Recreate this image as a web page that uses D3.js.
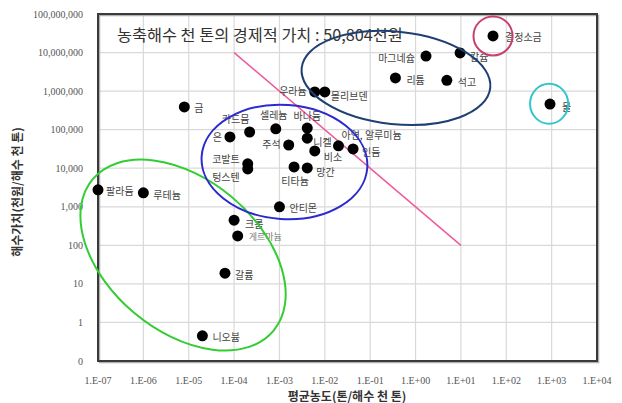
<!DOCTYPE html>
<html><head><meta charset="utf-8">
<script src="https://cdn.jsdelivr.net/npm/d3@7"></script>
<style>
body{margin:0;background:#fff;}
svg{display:block;}
text{font-family:"Noto Sans CJK KR","Noto Sans",sans-serif;}
</style></head>
<body><svg id="c" width="622" height="403"></svg>
<script>
// ---- data ----
const names = ["팔라듐","루테늄","금","은","카드뮴","셀레늄","바나듐","니켈","주석","비소","아연, 알루미늄","인듐","코발트","텅스텐","티타늄","망간","안티몬","크롬","게르마늄","갈륨","니오븀","우라늄","몰리브덴","마그네슘","칼슘","리튬","석고","결정소금","물"];
const concentration = [1e-7,1e-6,8e-6,8.1e-5,2.2e-4,8.3e-4,4.1e-3,4.1e-3,1.6e-3,6e-3,0.02,0.042,2.0e-4,2.0e-4,2.1e-3,4.1e-3,1e-3,1e-4,1.2e-4,6.3e-5,2.0e-5,6e-3,1e-2,1.7,9.6,0.36,4.9,51,920];
const value = [2750,2300,390000,65000,87000,105000,110000,60000,40000,28000,38000,31600,13000,9600,10800,10200,1000,450,175,19,0.45,950000,950000,8.1e6,9.8e6,2.2e6,1.9e6,2.7e7,460000];
const xTicks = [1e-7,1e-6,1e-5,1e-4,1e-3,1e-2,1e-1,1e0,1e1,1e2,1e3,1e4];
const xTickLabels = ["1.E-07","1.E-06","1.E-05","1.E-04","1.E-03","1.E-02","1.E-01","1.E+00","1.E+01","1.E+02","1.E+03","1.E+04"];
const yTicks = [1e8,1e7,1e6,1e5,1e4,1e3,1e2,1e1,1,0.1];
const yTickLabels = ["100,000,000","10,000,000","1,000,000","100,000","10,000","1,000","100","10","1","0"];
const trendX = [1e-4, 1e1];
const trendY = [1e7, 100];
// group outlines: centre (data), semi-axes in decades (x-decade units), rotation deg
const groups = [
  {cx:7.5e-6, cy:56, a:2.6, b:1.67, rot:40, color:"#33cc33"},
  {cx:1.29e-3, cy:14500, a:1.83, b:1.26, rot:4, color:"#2a2ad0"},
  {cx:0.37, cy:2.2e6, a:2.09, b:1.02, rot:6, color:"#1f3f73"},
  {cx:51, cy:2.7e7, a:0.43, b:0.43, rot:0, color:"#c8406e"},
  {cx:880, cy:4.7e5, a:0.42, b:0.44, rot:0, color:"#33c4cc"}
];
const title = "농축해수 천 톤의 경제적 가치 : 50,804천원";
const xTitle = "평균농도(톤/해수 천 톤)";
const yTitle = "해수가치(천원/해수 천 톤)";

// label placement (offset from the dot, px)
const place = {
 "팔라듐":[8,1,"start"],"루테늄":[10,2,"start"],"금":[10,1,"start"],"은":[-8,0,"end"],
 "카드뮴":[-14,-13,"middle"],"셀레늄":[-2,-14,"middle"],"바나듐":[0,-13,"middle"],"니켈":[6,3,"start"],
 "주석":[-8,-2,"end"],"비소":[9,6,"start"],"아연, 알루미늄":[3,-11,"start"],"인듐":[9,3,"start"],
 "코발트":[-8,-5,"end"],"텅스텐":[-8,8,"end"],"티타늄":[1,14,"middle"],"망간":[9,4,"start"],
 "안티몬":[10,1,"start"],"크롬":[11,3,"start"],"게르마늄":[11,1,"start"],"갈륨":[10,1,"start"],
 "니오븀":[10,1,"start"],"우라늄":[-8,-1,"end"],"몰리브덴":[6,4,"start"],"마그네슘":[-11,1,"end"],
 "칼슘":[10,4,"start"],"리튬":[11,2,"start"],"석고":[11,1,"start"],"결정소금":[12,1,"start"],"물":[12,2,"start"]
};

// ---- drawing ----
const svg = d3.select("#c");
const L=98, R=597, T=14, B=361;
const x = d3.scaleLog().domain([1e-7,1e4]).range([L,R]);
const y = d3.scaleLog().domain([0.1,1e8]).range([B,T]);
const pxDec = (R-L)/11;

// grid
const g = svg.append("g");
g.selectAll("line.vx").data(xTicks).join("line")
  .attr("x1",d=>x(d)).attr("x2",d=>x(d)).attr("y1",T).attr("y2",B)
  .attr("stroke","#d9d9d9").attr("stroke-width",1.2);
g.selectAll("line.hy").data(yTicks).join("line")
  .attr("y1",d=>y(d)).attr("y2",d=>y(d)).attr("x1",L).attr("x2",R)
  .attr("stroke","#d9d9d9").attr("stroke-width",1.2);

// frame with shadow
svg.append("rect").attr("x",L+1.5).attr("y",T+1.5).attr("width",R-L).attr("height",B-T)
  .attr("fill","none").attr("stroke","#b0b0b0").attr("stroke-width",1.5);
svg.append("rect").attr("x",L).attr("y",T).attr("width",R-L).attr("height",B-T)
  .attr("fill","none").attr("stroke","#3a3a3a").attr("stroke-width",2);

// axes labels
svg.append("g").selectAll("text").data(xTicks).join("text")
  .attr("x",d=>x(d)).attr("y",384).attr("text-anchor","middle")
  .attr("font-size",10).attr("fill","#555").style("font-family","Liberation Serif, serif")
  .text((d,i)=>xTickLabels[i]);
svg.append("g").selectAll("text").data(yTicks).join("text")
  .attr("x",83).attr("y",d=>y(d)+3.5).attr("text-anchor","end")
  .attr("font-size",10).attr("fill","#555").style("font-family","Liberation Serif, serif")
  .text((d,i)=>yTickLabels[i]);

svg.append("text").attr("x",347).attr("y",401).attr("text-anchor","middle")
  .attr("font-size",12).attr("font-weight","bold").attr("fill","#333").text(xTitle);
svg.append("text").attr("transform","translate(22,192) rotate(-90)").attr("text-anchor","middle")
  .attr("font-size",12).attr("font-weight","bold").attr("fill","#333").text(yTitle);

// title
svg.append("text").attr("x",117).attr("y",41).attr("font-size",16.3).attr("fill","#333").text(title);

// trend line
svg.append("line").attr("x1",x(trendX[0])).attr("y1",y(trendY[0]))
  .attr("x2",x(trendX[1])).attr("y2",y(trendY[1]))
  .attr("stroke","#ee5a9c").attr("stroke-width",1.5);

// points
const pts = names.map((n,i)=>({n, cx:concentration[i], v:value[i]}));
svg.append("g").selectAll("circle").data(pts).join("circle")
  .attr("cx",d=>x(d.cx)).attr("cy",d=>y(d.v)).attr("r",5.5).attr("fill","#000");

// labels
svg.append("g").selectAll("text").data(pts).join("text")
  .attr("x",d=>x(d.cx)+place[d.n][0]).attr("y",d=>y(d.v)+place[d.n][1])
  .attr("text-anchor",d=>place[d.n][2]).attr("dominant-baseline","central")
  .attr("font-size",d=>d.n==="게르마늄"?9:10).attr("fill",d=>d.n==="게르마늄"?"#777":"#444")
  .text(d=>d.n);

// group outlines
svg.append("g").selectAll("ellipse").data(groups).join("ellipse")
  .attr("transform",d=>`translate(${x(d.cx)},${y(d.cy)}) rotate(${d.rot})`)
  .attr("rx",d=>d.a*pxDec).attr("ry",d=>d.b*pxDec)
  .attr("fill","none").attr("stroke",d=>d.color).attr("stroke-width",2);
</script></body></html>
